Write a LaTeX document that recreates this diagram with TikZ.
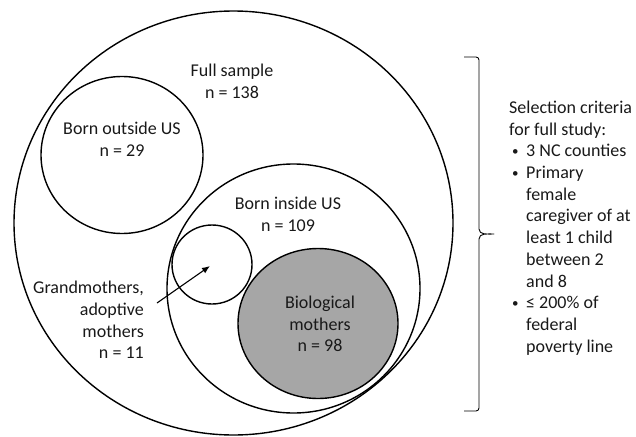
\documentclass[tikz,border=0pt]{standalone}
\usepackage{fontspec}
\setmainfont{Carlito}
\usetikzlibrary{shapes.geometric,arrows.meta}
\newcommand{\mybul}{\makebox[17pt][l]{\hspace{3pt}\raisebox{1.5pt}{\fontsize{13}{13}\selectfont •}}}
\begin{document}
\begin{tikzpicture}[x=1pt,y=-1pt,
  ring/.style={draw=black, line width=1.4pt, ellipse, inner sep=0pt},
  lbl/.style={font=\fontsize{18}{21.7}\selectfont, align=center, inner sep=0pt, text=black!90},
  conn/.style={draw=black, line width=1.1pt, -{Latex[length=8pt,width=6.5pt]}}]
\useasboundingbox (0,0) rectangle (636,436);
\node[ring, minimum width=439pt, minimum height=424pt] (full) at (233.5,223) {};
\node[ring, minimum width=162pt, minimum height=157pt] (outside) at (122,155) {};
\node[ring, minimum width=253pt, minimum height=249pt] (inside) at (293.5,288.5) {};
\node[ring, minimum width=80pt, minimum height=79pt] (grand) at (212,264.5) {};
\node[ring, fill=black!35, minimum width=160pt, minimum height=150pt] (bio) at (318,323.5) {};

\node[lbl] (tfull) at (232,81) {Full sample\\n = 138};
\node[lbl] (tout) at (122,139.5) {Born outside US\\n = 29};
\node[lbl] (tin) at (288,214) {Born inside US\\n = 109};
\node[lbl] (tbio) at (320,324) {Biological\\mothers\\n = 98};
\node[lbl, align=right, anchor=east] (tgrand) at (144,320) {Grandmothers,\\adoptive\\mothers\\n = 11};

\coordinate (as) at (157,303);
\coordinate (ae) at (210,266);
\draw[conn] (as) -- (ae);

\coordinate (b1) at (464,57);
\coordinate (b2) at (479,60);
\coordinate (bt) at (494,234);
\coordinate (b3) at (479,408);
\coordinate (b4) at (464,411);
\draw[line width=0.9pt, line join=round]
  (b1) -- (476,57) to[out=0,in=90] (b2) -- (479,229) to[out=-90,in=180] (bt)
  to[out=180,in=90] (479,239) -- (b3) to[out=-90,in=0] (476,411) -- (b4);

\node[lbl, align=left, anchor=west] (crit) at (509,228)
  {Selection criteria\\for full study:\\
   \mybul 3 NC counties\\
   \mybul Primary\\
   \hspace*{17pt}female\\
   \hspace*{17pt}caregiver of at\\
   \hspace*{17pt}least 1 child\\
   \hspace*{17pt}between 2\\
   \hspace*{17pt}and 8\\
   \mybul ≤ 200\% of\\
   \hspace*{17pt}federal\\
   \hspace*{17pt}poverty line};
\end{tikzpicture}
\end{document}
